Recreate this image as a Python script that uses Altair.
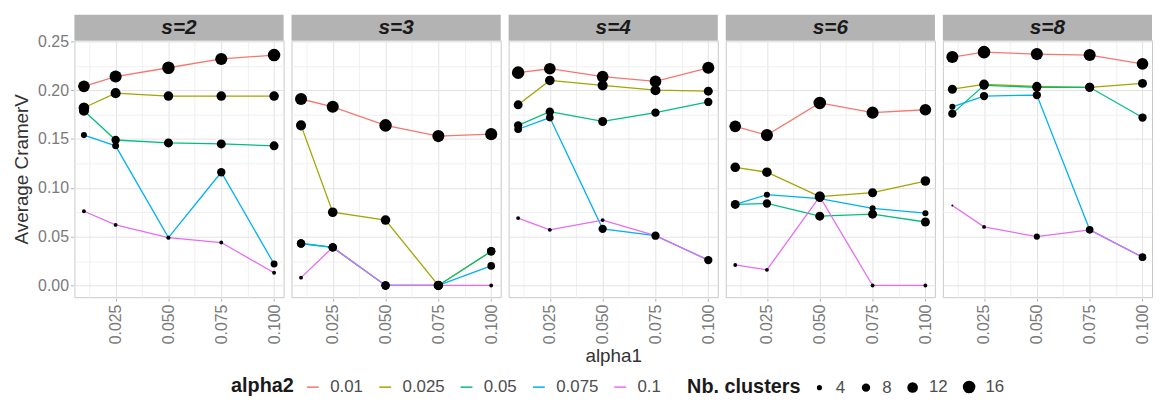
import altair as alt
import pandas as pd

# ---------------- data ----------------
S_VALUES = [2, 3, 4, 6, 8]
ALPHA1 = [0.01, 0.025, 0.05, 0.075, 0.1]
ALPHA2 = ["0.01", "0.025", "0.05", "0.075", "0.1"]
COLORS = ["#F8766D", "#A3A500", "#00BF7D", "#00B0F6", "#E76BF3"]

# Average CramerV, one list per alpha2 (rows) over alpha1 (columns)
CRAMER_S2 = [
    [0.204, 0.214, 0.223, 0.232, 0.236],
    [0.182, 0.197, 0.194, 0.194, 0.194],
    [0.179, 0.149, 0.146, 0.145, 0.143],
    [0.154, 0.143, 0.049, 0.116, 0.022],
    [0.076, 0.062, 0.049, 0.044, 0.013],
]
CRAMER_S3 = [
    [0.191, 0.183, 0.164, 0.153, 0.155],
    [0.164, 0.075, 0.067, 0.000, 0.035],
    [0.043, 0.039, 0.000, 0.000, 0.035],
    [0.043, 0.039, 0.000, 0.000, 0.020],
    [0.008, 0.039, 0.000, 0.000, 0.000],
]
CRAMER_S4 = [
    [0.218, 0.222, 0.214, 0.209, 0.223],
    [0.185, 0.210, 0.205, 0.200, 0.199],
    [0.164, 0.178, 0.168, 0.177, 0.188],
    [0.160, 0.172, 0.058, 0.051, 0.026],
    [0.069, 0.057, 0.067, 0.051, 0.026],
]
CRAMER_S6 = [
    [0.163, 0.154, 0.187, 0.177, 0.180],
    [0.121, 0.116, 0.091, 0.095, 0.107],
    [0.083, 0.084, 0.071, 0.073, 0.065],
    [0.083, 0.093, 0.089, 0.079, 0.074],
    [0.021, 0.016, 0.091, 0.000, 0.000],
]
CRAMER_S8 = [
    [0.234, 0.239, 0.237, 0.236, 0.227],
    [0.201, 0.206, 0.204, 0.203, 0.207],
    [0.176, 0.205, 0.203, 0.203, 0.172],
    [0.183, 0.194, 0.195, 0.057, 0.029],
    [0.082, 0.060, 0.050, 0.057, 0.029],
]

# Nb. clusters (point size), same layout
CLUSTERS_S2 = [
    [14, 15, 16, 15, 16],
    [12, 11, 10, 10, 10],
    [11, 8, 9, 9, 9],
    [5, 6, 3, 8, 6],
    [3, 3, 3, 3, 3],
]
CLUSTERS_S3 = [
    [15, 15, 16, 15, 15],
    [11, 10, 10, 10, 8],
    [8, 8, 8, 8, 8],
    [8, 8, 8, 8, 7],
    [3, 7, 7, 7, 3],
]
CLUSTERS_S4 = [
    [16, 14, 14, 14, 15],
    [9, 10, 11, 11, 9],
    [8, 8, 9, 8, 8],
    [7, 7, 8, 8, 8],
    [3, 3, 3, 3, 3],
]
CLUSTERS_S6 = [
    [14, 15, 16, 15, 14],
    [10, 10, 10, 9, 10],
    [9, 8, 9, 9, 9],
    [6, 5, 6, 5, 5],
    [3, 3, 11, 3, 3],
]
CLUSTERS_S8 = [
    [15, 16, 15, 15, 14],
    [9, 10, 9, 9, 9],
    [8, 9, 9, 9, 8],
    [5, 8, 8, 7, 7],
    [2, 3, 5, 5, 6],
]

CRAMER = [CRAMER_S2, CRAMER_S3, CRAMER_S4, CRAMER_S6, CRAMER_S8]
CLUSTERS = [CLUSTERS_S2, CLUSTERS_S3, CLUSTERS_S4, CLUSTERS_S6, CLUSTERS_S8]
PANELS = [f"s={s}" for s in S_VALUES]

rows = []
for panel, vals, clus in zip(PANELS, CRAMER, CLUSTERS):
    for a2, vser, cser in zip(ALPHA2, vals, clus):
        for a1, v, c in zip(ALPHA1, vser, cser):
            rows.append(dict(panel=panel, alpha1=a1, alpha2=a2, cramer=v, clusters=c))
df = pd.DataFrame(rows)

# ---------------- styling ----------------
FONT = "Liberation Sans"
PW, PH = 211, 259
STRIP = 26
GRID = "#e3e3e3"
GRID_MINOR = "#f0f0f0"

x_enc = alt.X(
    "alpha1:Q",
    scale=alt.Scale(domain=[0.0055, 0.1045], nice=False, zero=False),
    axis=alt.Axis(
        values=[0.0125, 0.025, 0.0375, 0.05, 0.0625, 0.075, 0.0875, 0.1],
        labelExpr="round(datum.value*80) % 2 == 1 ? '' : format(datum.value, '.3f')",
        labelAngle=270, labelAlign="right", labelBaseline="middle",
        labelFontSize=16, labelColor="#7a7a7a", labelPadding=3,
        tickSize=3,
        tickColor={"condition": {"test": "round(datum.value*80) % 2 == 1", "value": "transparent"}, "value": "#b3b3b3"},
        gridColor={"condition": {"test": "round(datum.value*80) % 2 == 1", "value": GRID_MINOR}, "value": GRID},
        domain=False, title=None,
    ),
)
y_enc = alt.Y(
    "cramer:Q",
    scale=alt.Scale(domain=[-0.012, 0.251], nice=False, zero=False),
    axis=alt.Axis(
        values=[0.0, 0.025, 0.05, 0.075, 0.1, 0.125, 0.15, 0.175, 0.2, 0.225, 0.25],
        labelExpr="round(datum.value*40) % 2 == 1 ? '' : format(datum.value, '.2f')",
        labelFontSize=16, labelColor="#7a7a7a", labelPadding=2,
        tickSize=3,
        tickColor={"condition": {"test": "round(datum.value*40) % 2 == 1", "value": "transparent"}, "value": "#b3b3b3"},
        gridColor={"condition": {"test": "round(datum.value*40) % 2 == 1", "value": GRID_MINOR}, "value": GRID},
        domain=False, title="Average CramerV", titleFontSize=19, titleFontWeight="normal",
        titleColor="#333333", titlePadding=6,
    ),
)

lines = alt.Chart().mark_line(strokeWidth=1.3).encode(
    x=x_enc,
    y=y_enc,
    color=alt.Color(
        "alpha2:N",
        sort=ALPHA2,
        scale=alt.Scale(domain=ALPHA2, range=COLORS),
        legend=alt.Legend(
            title="alpha2", orient="none", legendX=158, legendY=341,
            direction="horizontal", titleOrient="left", titleAnchor="middle",
            symbolType="stroke", symbolStrokeWidth=1.5, symbolSize=144,
            labelFontSize=17, labelColor="#4d4d4d", labelOffset=9,
            titleFontSize=20, titleFontWeight="bold", titleColor="#1a1a1a",
            titlePadding=10, columnPadding=12,
        ),
    ),
)

points = alt.Chart().mark_circle(color="black", opacity=1).encode(
    x=x_enc,
    y=y_enc,
    size=alt.Size(
        "clusters:Q",
        scale=alt.Scale(domain=[2, 16], range=[4, 160], zero=False),
        legend=alt.Legend(
            title="Nb. clusters", orient="none", legendX=618, legendY=341,
            direction="horizontal", titleOrient="left", titleAnchor="middle",
            values=[4, 8, 12, 16], symbolFillColor="black", symbolStrokeColor="black",
            labelFontSize=17, labelColor="#4d4d4d", labelOffset=8,
            titleFontSize=20, titleFontWeight="bold", titleColor="#1a1a1a",
            titlePadding=10, columnPadding=12,
        ),
    ),
)

strip_rect = alt.Chart().transform_aggregate(groupby=["panel"]).mark_rect(
    color="#b3b3b3"
).encode(
    x=alt.value(0), x2=alt.value(PW), y=alt.value(-STRIP), y2=alt.value(0)
)
strip_text = alt.Chart().transform_aggregate(groupby=["panel"]).mark_text(
    font=FONT, fontSize=21, fontWeight="bold", fontStyle="italic",
    color="#1a1a1a", baseline="middle", align="center",
).encode(
    text="panel:N", x=alt.value(PW / 2), y=alt.value(-STRIP / 2 + 1)
)

layered = alt.layer(strip_rect, strip_text, lines, points, data=df).properties(
    width=PW, height=PH
)

chart = layered.facet(
    column=alt.Column(
        "panel:N",
        sort=PANELS,
        header=alt.Header(
            labels=False, title="alpha1", titleOrient="bottom",
            titleFontSize=19, titleFontWeight="normal", titleColor="#333333",
            titleFont=FONT, titlePadding=-8,
        ),
    ),
    spacing=6,
).properties(
    padding={"left": 4, "top": 4, "right": 0, "bottom": 0}
).configure(
    font=FONT
).configure_view(
    stroke="#c8c8c8", strokeWidth=1
).configure_axis(
    labelFont=FONT, titleFont=FONT, gridWidth=1
).configure_legend(
    labelFont=FONT, titleFont=FONT
)

chart.save("out.html", embed_options={"renderer": "svg", "actions": False})
